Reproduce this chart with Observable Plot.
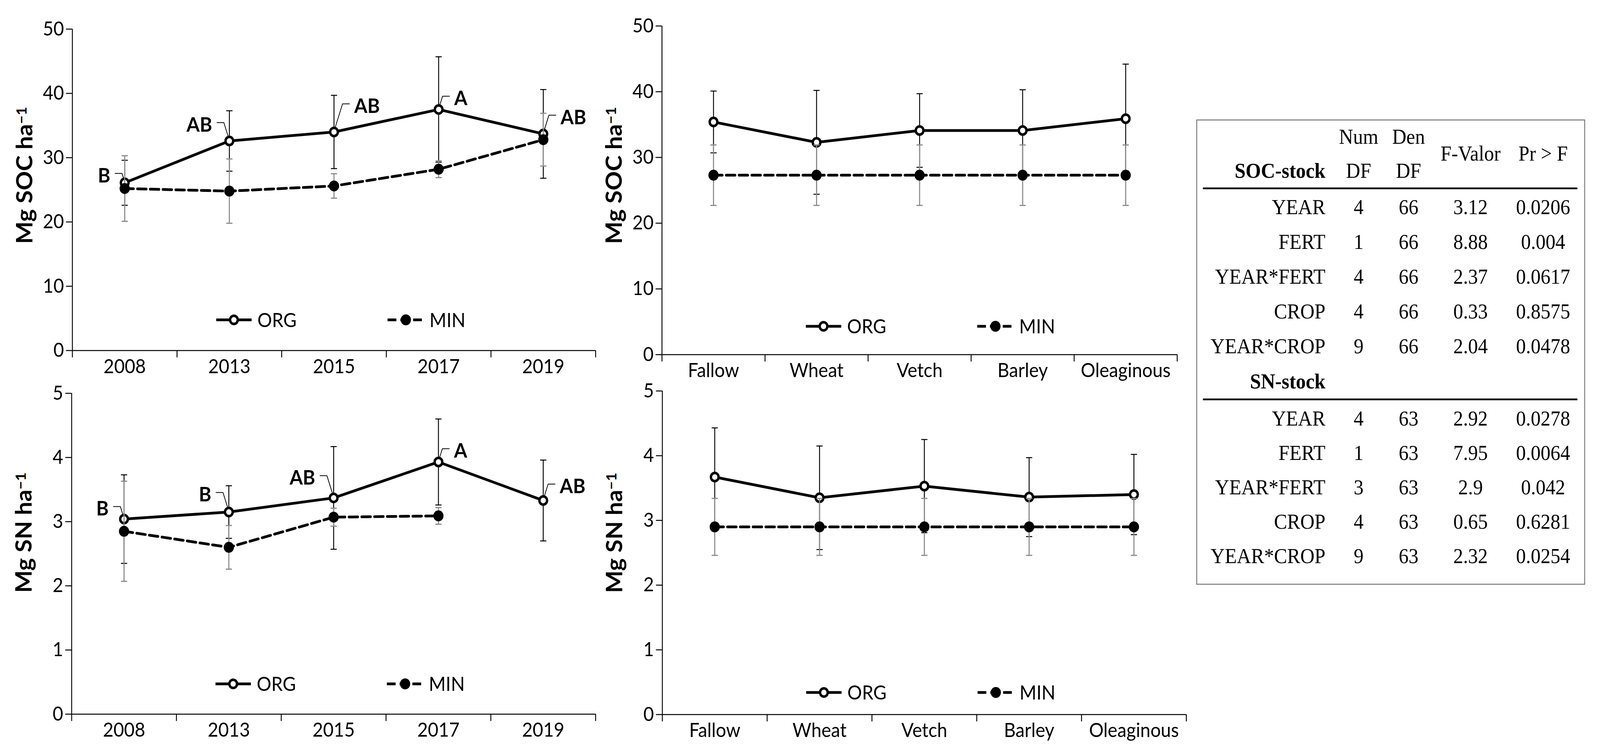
<!DOCTYPE html>
<html>
<head>
<meta charset="utf-8">
<script src="https://cdn.jsdelivr.net/npm/d3@7"></script>
<script src="https://cdn.jsdelivr.net/npm/@observablehq/plot@0.6"></script>
<style>
  html, body { margin: 0; padding: 0; background: #fff; overflow: hidden; }
  #wrap { position: relative; overflow: hidden; background: #fff; }
  #page { position: absolute; left: 0; top: 0; width: 4388px; height: 1932px; overflow: hidden; background: #fff; transform-origin: 0 0; }
  .panel { position: absolute; }
</style>
</head>
<body>
<div id="wrap"><div id="page"></div></div>
<script>
// ---------------- DATA ----------------
const years = ["2008", "2013", "2015", "2017", "2019"];
const crops = ["Fallow", "Wheat", "Vetch", "Barley", "Oleaginous"];

const socYearOrg    = [26.1, 32.6, 34.0, 37.5, 33.7];
const socYearOrgErr = [3.5, 4.7, 5.7, 8.2, 6.9];
const socYearMin    = [25.2, 24.8, 25.6, 28.2, 32.8];
const socYearMinErr = [5.1, 5.0, 1.9, 1.3, 4.1];
const socYearLetters = ["B", "AB", "AB", "A", "AB"];

const socCropOrg    = [35.4, 32.3, 34.1, 34.1, 35.9];
const socCropOrgErr = [4.7, 7.9, 5.6, 6.2, 8.3];
const socCropMin    = [27.3, 27.3, 27.3, 27.3, 27.3];
const socCropMinErr = [4.6, 4.6, 4.6, 4.6, 4.6];

const snYearOrg    = [3.04, 3.15, 3.37, 3.93, 3.33];
const snYearOrgErr = [0.69, 0.41, 0.80, 0.67, 0.63];
const snYearMin    = [2.85, 2.60, 3.07, 3.09, null];
const snYearMinErr = [0.78, 0.34, 0.14, 0.13, null];
const snYearLetters = ["B", "B", "AB", "A", "AB"];

const snCropOrg    = [3.67, 3.35, 3.53, 3.36, 3.40];
const snCropOrgErr = [0.76, 0.80, 0.72, 0.61, 0.62];
const snCropMin    = [2.90, 2.90, 2.90, 2.90, 2.90];
const snCropMinErr = [0.44, 0.44, 0.44, 0.44, 0.44];

const socTicks = [0, 10, 20, 30, 40, 50];
const snTicks = [0, 1, 2, 3, 4, 5];
const seriesNames = ["ORG", "MIN"];

// ANOVA table
const socTerms = ["YEAR", "FERT", "YEAR*FERT", "CROP", "YEAR*CROP"];
const socNumDF = ["4", "1", "4", "4", "9"];
const socDenDF = ["66", "66", "66", "66", "66"];
const socF     = ["3.12", "8.88", "2.37", "0.33", "2.04"];
const socP     = ["0.0206", "0.004", "0.0617", "0.8575", "0.0478"];
const snTerms = ["YEAR", "FERT", "YEAR*FERT", "CROP", "YEAR*CROP"];
const snNumDF = ["4", "1", "3", "4", "9"];
const snDenDF = ["63", "63", "63", "63", "63"];
const snF     = ["2.92", "7.95", "2.9", "0.65", "2.32"];
const snP     = ["0.0278", "0.0064", "0.042", "0.6281", "0.0254"];

// ---------------- LAYOUT ----------------
const FONT = "Lato, 'Open Sans', sans-serif";
const TICK_FS = 50;
const panels = [
  { cats: years, org: socYearOrg, orgErr: socYearOrgErr, min: socYearMin, minErr: socYearMinErr,
    letters: socYearLetters, ticks: socTicks, title: "Mg SOC ha",
    frame: { left: 198, right: 1633, top: 73.5, bottom: 896 }, titleDy: -37, legendUp: 78,
    sides: [-1, -1, 1, 1, 1], lifts: [24, 47, 72, 34, 48] },
  { cats: crops, org: socCropOrg, orgErr: socCropOrgErr, min: socCropMin, minErr: socCropMinErr,
    letters: null, ticks: socTicks, title: "Mg SOC ha",
    frame: { left: 1815, right: 3228, top: 66, bottom: 907 }, titleDy: -38, legendUp: 72 },
  { cats: years, org: snYearOrg, orgErr: snYearOrgErr, min: snYearMin, minErr: snYearMinErr,
    letters: snYearLetters, ticks: snTicks, title: "Mg SN ha",
    frame: { left: 196, right: 1633, top: 1006, bottom: 1827 }, titleDy: -54, legendUp: 77,
    sides: [-1, -1, -1, 1, 1], lifts: [32, 50, 57, 34, 42] },
  { cats: crops, org: snCropOrg, orgErr: snCropOrgErr, min: snCropMin, minErr: snCropMinErr,
    letters: null, ticks: snTicks, title: "Mg SN ha",
    frame: { left: 1816, right: 3253, top: 999.5, bottom: 1827.5 }, titleDy: -51, legendUp: 56 }
];

// fit the 4388x1932 design into whatever viewport the browser really has
const pageEl = document.getElementById("page");
const wrapEl = document.getElementById("wrap");
function fit() {
  const iw = window.innerWidth || 4388, ih = window.innerHeight || 1932;
  const sx = iw / 4388, sy = ih / 1932;
  pageEl.style.transform = `scale(${sx}, ${sy})`;
  wrapEl.style.width = iw + "px";
  wrapEl.style.height = ih + "px";
}
fit();
window.addEventListener("resize", fit);

const page = d3.select(pageEl);
const capSym = { draw(ctx) { ctx.moveTo(-8.5, 0); ctx.lineTo(8.5, 0); } };
const leaderShape = s => ({
  draw(ctx, l) {
    const b = 2.4 + (l - 9) / 3;
    ctx.moveTo(s * 2.4, -9);
    ctx.lineTo(s * b, -l);
    ctx.lineTo(s * (b + 19), -l);
  }
});
const LINE_W = 7, DASH = "24,11";
const ORG_R = 10.5, ORG_SW = 6.5, MIN_R = 14;

function makePanel(p) {
  const mL = 196, mR = 40, mT = 40, mB = 90;
  const fw = p.frame.right - p.frame.left, fh = p.frame.bottom - p.frame.top;
  const W = fw + mL + mR, H = fh + mT + mB;
  const rows = p.cats.map((c, i) => ({
    i, x: i + 0.5, cat: c, org: p.org[i], orgErr: p.orgErr[i],
    min: p.min[i], minErr: p.minErr[i], letter: p.letters ? p.letters[i] : null
  }));
  const minRows = rows.filter(d => d.min != null);
  const ymax = p.ticks[p.ticks.length - 1];

  const marks = [
    Plot.axisY({ ticks: p.ticks, tickSize: 17, tickPadding: 6, fontSize: TICK_FS, strokeWidth: 2.5, label: null,
                 tickFormat: d => String(d) }),
    Plot.axisX({ ticks: d3.range(0, p.cats.length + 1), tickSize: 18, tickFormat: () => "", strokeWidth: 2.5, label: null }),
    Plot.axisX({ ticks: rows.map(d => d.x), tickSize: 0, tickPadding: 22, fontSize: TICK_FS, label: null,
                 tickFormat: v => p.cats[Math.round(v - 0.5)] }),
    Plot.ruleY([0], { strokeWidth: 2.5 }),
    Plot.ruleX([0], { strokeWidth: 2.5 }),
    // ORG error bars
    Plot.ruleX(rows, { x: "x", y1: d => d.org - d.orgErr, y2: d => d.org + d.orgErr, stroke: "black", strokeWidth: 2.5 }),
    Plot.dot(rows, { x: "x", y: d => d.org + d.orgErr, symbol: capSym, r: 5, fill: "none", stroke: "black", strokeWidth: 2.5 }),
    Plot.dot(rows, { x: "x", y: d => d.org - d.orgErr, symbol: capSym, r: 5, fill: "none", stroke: "black", strokeWidth: 2.5 }),
    Plot.line(rows, { x: "x", y: "org", stroke: "black", strokeWidth: LINE_W })
  ];
  if (p.letters) {
    rows.forEach((d, i) => {
      const s = p.sides[i], lift = p.lifts[i];
      const end = 2.4 + (lift - 9) / 3 + 19;
      marks.push(Plot.vector([d], { x: "x", y: "org", length: lift, rotate: 0, anchor: "start",
        shape: leaderShape(s), stroke: "black", strokeWidth: 2, fill: "none" }));
      marks.push(Plot.text([d], { x: "x", y: "org", text: "letter", dx: s * (end + 13), dy: 23 - lift,
        textAnchor: s < 0 ? "end" : "start", lineAnchor: "bottom", fontSize: 52, fontWeight: "bold",
        fontFamily: FONT }));
    });
  }
  marks.push(
    Plot.dot(rows, { x: "x", y: "org", r: ORG_R, fill: "white", stroke: "black", strokeWidth: ORG_SW }),
    // MIN
    Plot.ruleX(minRows, { x: "x", y1: d => d.min - d.minErr, y2: d => d.min + d.minErr, stroke: "#8c8c8c", strokeWidth: 3 }),
    Plot.dot(minRows, { x: "x", y: d => d.min + d.minErr, symbol: capSym, r: 5, fill: "none", stroke: "#8c8c8c", strokeWidth: 3 }),
    Plot.dot(minRows, { x: "x", y: d => d.min - d.minErr, symbol: capSym, r: 5, fill: "none", stroke: "#8c8c8c", strokeWidth: 3 }),
    Plot.line(rows, { x: "x", y: "min", stroke: "black", strokeWidth: LINE_W, strokeDasharray: DASH }),
    Plot.dot(minRows, { x: "x", y: "min", r: MIN_R, fill: "black" }),
    // y title
    Plot.text([p.title], { frameAnchor: "left", text: d => d, rotate: -90, dx: -110, dy: p.titleDy,
      lineAnchor: "bottom", textAnchor: "middle", fontSize: 61, fontWeight: "bold", fontFamily: FONT })
  );

  const svg = Plot.plot({
    width: W, height: H,
    marginLeft: mL, marginRight: mR, marginTop: mT, marginBottom: mB,
    x: { domain: [0, p.cats.length] },
    y: { domain: [0, ymax] },
    style: { fontFamily: FONT, fontSize: TICK_FS + "px", background: "transparent", overflow: "visible", maxWidth: "none", color: "black" },
    marks
  });

  // superscript on y title
  d3.select(svg).selectAll("text").filter(function () { return this.textContent === p.title; })
    .each(function () {
      const t = d3.select(this);
      t.text(null);
      t.append("tspan").text(p.title);
      t.append("tspan").attr("dy", "-0.42em").attr("font-size", "0.62em").text("\u22121");
    });

  // legend
  const lg = d3.select(svg).append("g")
    .attr("transform", `translate(${mL},${mT + fh - p.legendUp})`)
    .attr("font-family", FONT).attr("font-size", TICK_FS).attr("text-anchor", "start");
  lg.append("line").attr("x1", 395).attr("x2", 492).attr("stroke", "black").attr("stroke-width", LINE_W);
  lg.append("circle").attr("cx", 443.5).attr("r", ORG_R).attr("fill", "white").attr("stroke", "black").attr("stroke-width", ORG_SW);
  lg.append("text").attr("x", 508).attr("dy", "0.36em").attr("text-anchor", "start").text(seriesNames[0]);
  lg.append("line").attr("x1", 865).attr("x2", 965).attr("stroke", "black").attr("stroke-width", LINE_W).attr("stroke-dasharray", DASH);
  lg.append("circle").attr("cx", 915).attr("r", MIN_R).attr("fill", "black");
  lg.append("text").attr("x", 980).attr("dy", "0.36em").attr("text-anchor", "start").text(seriesNames[1]);

  page.append("div").attr("class", "panel")
    .style("left", (p.frame.left - mL) + "px").style("top", (p.frame.top - mT) + "px")
    .style("width", W + "px").style("height", H + "px")
    .node().appendChild(svg);
}
panels.forEach(makePanel);

// ---------------- TABLE ----------------
const T = { left: 3282, top: 307, right: 4346, bottom: 1495, labelX: 3635,
            cols: [3726, 3863, 4033, 4232], ruleL: 3299, ruleR: 4326 };
const tbl = page.append("svg").attr("width", 4388).attr("height", 1932)
  .style("position", "absolute").style("left", "0px").style("top", "0px")
  .attr("font-family", "'Liberation Serif', 'Times New Roman', serif").attr("font-size", 54).attr("fill", "black");
tbl.append("rect").attr("x", T.left).attr("y", T.top).attr("width", T.right - T.left).attr("height", T.bottom - T.top)
  .attr("fill", "none").attr("stroke", "#777").attr("stroke-width", 2.5);
const hdr = [
  { t: "Num", x: T.cols[0], y: 368 }, { t: "DF", x: T.cols[0], y: 455 },
  { t: "Den", x: T.cols[1], y: 368 }, { t: "DF", x: T.cols[1], y: 455 },
  { t: "F-Valor", x: T.cols[2], y: 411 }, { t: "Pr > F", x: T.cols[3], y: 411 }
];
hdr.forEach(h => tbl.append("text").attr("x", h.x).attr("y", h.y).attr("text-anchor", "middle").text(h.t));

function block(title, terms, num, den, F, P, titleY, ruleY, row0, step) {
  tbl.append("text").attr("x", T.labelX).attr("y", titleY).attr("text-anchor", "end").attr("font-weight", "bold").text(title);
  tbl.append("line").attr("x1", T.ruleL).attr("x2", T.ruleR).attr("y1", ruleY).attr("y2", ruleY)
    .attr("stroke", "black").attr("stroke-width", 4.5);
  terms.forEach((term, k) => {
    const y = row0 + k * step;
    tbl.append("text").attr("x", T.labelX).attr("y", y).attr("text-anchor", "end").text(term);
    [num[k], den[k], F[k], P[k]].forEach((v, c) =>
      tbl.append("text").attr("x", T.cols[c]).attr("y", y).attr("text-anchor", "middle").text(v));
  });
}
block("SOC-stock", socTerms, socNumDF, socDenDF, socF, socP, 455, 482, 548, 89);
block("SN-stock", snTerms, snNumDF, snDenDF, snF, snP, 994, 1022, 1089, 88);
</script>
</body>
</html>
